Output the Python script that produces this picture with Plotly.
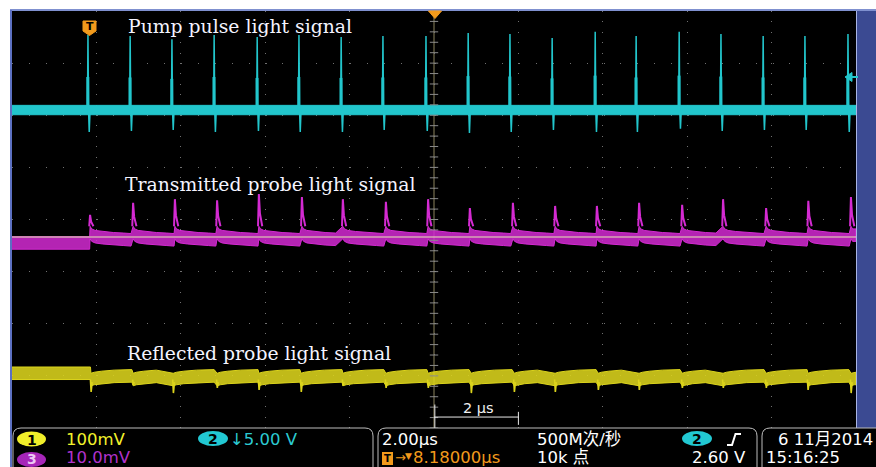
import plotly.graph_objects as go

# ---------------- data ----------------
# horizontal: time in µs (2 µs/div, 10 div, trigger at centre); vertical: screen divisions (8 div)
pump_t = [-8.20, -7.20, -6.21, -5.21, -4.19, -3.20, -2.20, -1.21, -0.19, 0.81,
          1.80, 2.80, 3.82, 4.79, 5.81, 6.80, 7.80, 8.79, 9.81]
pump_peak = [3.54, 3.52, 3.46, 3.54, 3.50, 3.54, 3.50, 3.52, 3.52, 3.58,
             3.56, 3.48, 3.60, 3.52, 3.60, 3.56, 3.52, 3.52, 3.56]
pump_under = [1.68, 1.70, 1.72, 1.68, 1.70, 1.68, 1.68, 1.72, 1.70, 1.66,
              1.68, 1.72, 1.68, 1.68, 1.74, 1.70, 1.72, 1.72, 1.68]
pump_base = 2.10
pump_band = 0.09

trans_t = [-8.15, -7.13, -6.14, -5.14, -4.15, -3.13, -2.16, -1.14, -0.14, 0.85,
           1.87, 2.87, 3.86, 4.86, 5.88, 6.85, 7.87, 8.87, 9.88]
trans_peak = [0.09, 0.32, 0.39, 0.37, 0.49, 0.43, 0.39, 0.34, 0.39, 0.22,
              0.32, 0.26, 0.26, 0.32, 0.28, 0.39, 0.22, 0.36, 0.43]
trans_pre = -0.45
trans_tail_dt = [0.0, 0.04, 0.12, 0.30, 0.55, 0.80, 0.97]
trans_tail_v = [-0.25, -0.30, -0.33, -0.35, -0.37, -0.38, -0.39]
trans_band = 0.12

refl_t = [-8.13, -7.13, -6.18, -5.14, -4.15, -3.15, -2.16, -1.14, -0.14, 0.88,
          1.90, 2.87, 3.89, 4.86, 5.88, 6.85, 7.87, 8.86, 9.88]
refl_dip = [-3.31, -3.17, -3.33, -3.23, -3.27, -3.31, -3.19, -3.23, -3.23, -3.33,
            -3.31, -3.31, -3.27, -3.27, -3.23, -3.23, -3.23, -3.27, -3.33]
refl_pre = -2.95
refl_tail_dt = [0.0, 0.08, 0.25, 0.55, 0.97]
refl_tail_v = [-3.07, -3.05, -3.03, -3.01, -3.00]
refl_band = 0.12

trace_labels = ["Pump pulse light signal", "Transmitted probe light signal",
                "Reflected probe light signal"]
status_ch = ["100mV", "10.0mV", "↓5.00 V"]
status_time = ["2.00µs", "8.18000µs", "500M次/秒", "10k 点", "2.60 V"]
status_date = ["6 11月2014", "15:16:25"]
scale_label = "2 µs"

C_PUMP = "#22c6cc"
C_TRANS = "#d42ad2"
C_REFL = "#dcd41c"
C_ORANGE = "#f29a1c"
SANS = "DejaVu Sans, Noto Sans CJK SC, sans-serif"
SERIF = "DejaVu Serif, serif"

# ---------------- geometry helpers (pixels -> paper) ----------------
L, T, R, B = 12, 11, 856, 428
W, H = R - L, B - T


def px(x):
    return (x - L) / W


def py(y):
    return (B - y) / H


def pth(points, close=True):
    s = "M " + " L ".join(f"{px(x):.5f},{py(y):.5f}" for x, y in points)
    return s + (" Z" if close else "")


def centerline(times, pre, dts, vs):
    xs, ys = [-10.0, times[0] - 0.01], [pre, pre]
    for i, t in enumerate(times):
        nxt = times[i + 1] if i + 1 < len(times) else 10.0
        for dt, v in zip(dts, vs):
            x = t + dt
            if x < nxt - 0.01 and x <= 10.0:
                xs.append(x)
                ys.append(v)
    if xs[-1] < 10.0:
        xs.append(10.0)
        ys.append(ys[-1])
    return xs, ys


def band(xs, ys, hw, color, fill):
    bx = xs + xs[::-1]
    by = [y + hw for y in ys] + [y - hw for y in ys[::-1]]
    return go.Scatter(x=bx, y=by, fill="toself", fillcolor=fill, mode="lines",
                      line=dict(color=color, width=1), hoverinfo="skip", showlegend=False)


fig = go.Figure()

# pump channel
fig.add_trace(band([-10.0, 10.0], [pump_base, pump_base], pump_band, C_PUMP, C_PUMP))
sx, sy, tx, ty = [], [], [], []
for t, pk, un in zip(pump_t, pump_peak, pump_under):
    sx += [t - 0.012, t, t + 0.014, t + 0.03, t + 0.05, None]
    sy += [pump_base, pk, pump_base, un, pump_base, None]
    tx += [t - 0.004, t - 0.004, None]
    ty += [pump_base, pump_base + 0.44 * (pk - pump_base), None]
fig.add_trace(go.Scatter(x=sx, y=sy, mode="lines", line=dict(color=C_PUMP, width=1.5),
                         hoverinfo="skip", showlegend=False))
fig.add_trace(go.Scatter(x=tx, y=ty, mode="lines", line=dict(color=C_PUMP, width=3),
                         hoverinfo="skip", showlegend=False))

# transmitted channel
cx, cy = centerline(trans_t, trans_pre, trans_tail_dt, trans_tail_v)
fig.add_trace(band(cx, cy, trans_band, C_TRANS, "rgba(212,42,210,0.85)"))
sx, sy = [], []
for t, pk in zip(trans_t, trans_peak):
    c0 = trans_tail_v[0] + trans_band
    sx += [t - 0.02, t, t + 0.025, t + 0.08, None]
    sy += [c0, pk, c0 + 0.4 * (pk - c0), c0, None]
fig.add_trace(go.Scatter(x=sx, y=sy, mode="lines", line=dict(color=C_TRANS, width=2),
                         hoverinfo="skip", showlegend=False))

# reflected channel
cx, cy = centerline(refl_t, refl_pre, refl_tail_dt, refl_tail_v)
fig.add_trace(band(cx, cy, refl_band, C_REFL, "rgba(220,212,28,0.88)"))
sx, sy = [], []
for t, d in zip(refl_t, refl_dip):
    c0 = refl_tail_v[0]
    sx += [t - 0.012, t + 0.005, t + 0.03, None]
    sy += [c0, d, c0 - 0.05, None]
fig.add_trace(go.Scatter(x=sx, y=sy, mode="lines", line=dict(color=C_REFL, width=1.6),
                         hoverinfo="skip", showlegend=False))

# centre-line minor ticks of graticule
tick_v = [k * 0.2 for k in range(-20, 21)]
fig.add_trace(go.Scatter(x=[0.0] * len(tick_v), y=tick_v, mode="markers",
                         marker=dict(symbol="line-ew", size=6,
                                     line=dict(color="#8a8a8a", width=1)),
                         hoverinfo="skip", showlegend=False))

shapes = []
# centre vertical line and pale horizontal reference line
shapes.append(dict(type="line", xref="x", yref="y", x0=0, x1=0, y0=-4, y1=4,
                   line=dict(color="rgba(165,155,110,0.85)", width=1), layer="below"))
shapes.append(dict(type="line", xref="x", yref="y", x0=-10, x1=10, y0=-0.336, y1=-0.336,
                   line=dict(color="#e6e6b4", width=1), layer="above"))
# scale bar
shapes.append(dict(type="line", xref="x", yref="y", x0=0, x1=2, y0=-3.79, y1=-3.79,
                   line=dict(color="#e8e8e8", width=1)))
shapes.append(dict(type="line", xref="x", yref="y", x0=2, x1=2, y0=-3.69, y1=-3.94,
                   line=dict(color="#e8e8e8", width=1)))
shapes.append(dict(type="line", xref="x", yref="y", x0=0.02, x1=0.02, y0=-3.55, y1=-4.0,
                   line=dict(color="#e8e8e8", width=1)))

# frame: status bar, right panel, borders
shapes.append(dict(type="rect", xref="paper", yref="paper", x0=px(L), x1=px(876),
                   y0=py(467), y1=py(B), fillcolor="black", line=dict(width=0)))
shapes.append(dict(type="rect", xref="paper", yref="paper", x0=px(R), x1=px(876),
                   y0=py(B), y1=py(10), fillcolor="#3b4a92", line=dict(width=0)))
shapes.append(dict(type="line", xref="paper", yref="paper", x0=px(R + 0.5), x1=px(R + 0.5),
                   y0=py(B), y1=py(10), line=dict(color="#a8b4e4", width=1)))
shapes.append(dict(type="line", xref="paper", yref="paper", x0=px(10), x1=px(876),
                   y0=py(10), y1=py(10), line=dict(color="#7f90cf", width=2)))
shapes.append(dict(type="line", xref="paper", yref="paper", x0=px(11), x1=px(11),
                   y0=py(10), y1=py(467), line=dict(color="#5c70c2", width=2)))
boxes = [(13, 373), (378, 757)]
for a, b in boxes:
    p = (f"M {px(a)},{py(467)} L {px(a)},{py(436)} Q {px(a)},{py(428)} {px(a + 8)},{py(428)} "
         f"L {px(b - 8)},{py(428)} Q {px(b)},{py(428)} {px(b)},{py(436)} L {px(b)},{py(467)}")
    shapes.append(dict(type="path", xref="paper", yref="paper", path=p,
                       line=dict(color="#bdbdbd", width=1)))
p = (f"M {px(762)},{py(467)} L {px(762)},{py(436)} Q {px(762)},{py(428)} {px(770)},{py(428)} "
     f"L {px(876)},{py(428)}")
shapes.append(dict(type="path", xref="paper", yref="paper", path=p,
                   line=dict(color="#bdbdbd", width=1)))

# markers: trigger T, trigger-position triangle, level arrow
shapes.append(dict(type="path", xref="paper", yref="paper",
                   path=pth([(83, 21), (96, 21), (96, 31), (89.5, 35.5), (83, 31)]),
                   fillcolor=C_ORANGE, line=dict(color=C_ORANGE, width=1)))
shapes.append(dict(type="path", xref="paper", yref="paper",
                   path=pth([(428.5, 11), (441.5, 11), (435, 18.5)]),
                   fillcolor=C_ORANGE, line=dict(color=C_ORANGE, width=1)))
shapes.append(dict(type="path", xref="paper", yref="paper",
                   path=pth([(845, 77), (852, 72.5), (852, 81.5)]),
                   fillcolor=C_PUMP, line=dict(color=C_PUMP, width=1)))
shapes.append(dict(type="line", xref="paper", yref="paper", x0=px(851), x1=px(858),
                   y0=py(77), y1=py(77), line=dict(color=C_PUMP, width=2)))

# status ovals
ovals = [(17, 46, 431.5, 446.5, "#f0ee2a"), (17, 46, 452, 467, "#a626b8"),
         (198, 228, 431, 446, "#22c8d2"), (682, 712, 431, 446, "#22c8d2")]
for x0, x1, y0, y1, col in ovals:
    shapes.append(dict(type="circle", xref="paper", yref="paper", x0=px(x0), x1=px(x1),
                       y0=py(y1), y1=py(y0), fillcolor=col, line=dict(width=0)))
# T icon in status
shapes.append(dict(type="rect", xref="paper", yref="paper", x0=px(382), x1=px(393),
                   y0=py(465), y1=py(452), fillcolor=C_ORANGE, line=dict(width=0)))
# rising edge symbol
shapes.append(dict(type="path", xref="paper", yref="paper",
                   path=pth([(727, 445), (732, 445), (735.5, 434), (741, 434)], close=False),
                   line=dict(color="white", width=2)))


def txt(x, y, s, color, size=16.5, anchor="left", family=SANS, bold=False):
    return dict(x=px(x), y=py(y), xref="paper", yref="paper", text=s, showarrow=False,
                xanchor=anchor, yanchor="middle",
                font=dict(color=color, size=size, family=family,
                          weight="bold" if bold else "normal"))


R1, R2 = 439, 457.5
ann = [
    txt(240, 27, trace_labels[0], "#f4f4ff", 18.8, "center", SERIF),
    txt(270, 184, trace_labels[1], "#f4f4ff", 18.8, "center", SERIF),
    txt(259, 353, trace_labels[2], "#f4f4ff", 18.8, "center", SERIF),
    txt(478, 408, scale_label, "#f0f0f0", 14.5, "center"),
    txt(89.5, 27, "T", "black", 11, "center", bold=True),
    txt(31.5, 439.5, "1", "black", 14, "center", bold=True),
    txt(31.5, 459, "3", "#ecc8f4", 14, "center", bold=True),
    txt(213, 438.5, "2", "black", 14, "center", bold=True),
    txt(697, 438.5, "2", "black", 14, "center", bold=True),
    txt(387.5, 458.5, "T", "black", 10, "center", bold=True),
    txt(64, R1, status_ch[0], "#f2f22c"),
    txt(64, R2, status_ch[1], "#b232cc"),
    txt(228, R1, status_ch[2], "#2ccad2"),
    txt(380, R1, status_time[0], "white"),
    txt(393, R2, "→", C_ORANGE, 13),
    txt(403, R2 - 1.5, "▼", C_ORANGE, 9),
    txt(411, R2, status_time[1], C_ORANGE),
    txt(535, R1, status_time[2], "white"),
    txt(535, R2, status_time[3], "white"),
    txt(748, R2, status_time[4], "white", anchor="right"),
    txt(776, R1, status_date[0], "white"),
    txt(764, R2, status_date[1], "white"),
]

fig.update_layout(
    width=876, height=467,
    margin=dict(l=L, r=876 - R, t=T, b=467 - B, pad=0),
    paper_bgcolor="white", plot_bgcolor="black",
    showlegend=False,
    xaxis=dict(range=[-10, 10], dtick=2, tick0=-10, showgrid=True, gridcolor="#707070",
               gridwidth=1, griddash="1px,9.4px", zeroline=False, showticklabels=False,
               showline=False, ticks="", fixedrange=True),
    yaxis=dict(range=[-4, 4], dtick=1, tick0=-4, showgrid=True, gridcolor="#707070",
               gridwidth=1, griddash="1px,15.9px", zeroline=False, showticklabels=False,
               showline=False, ticks="", fixedrange=True),
    shapes=shapes,
    annotations=ann,
)

fig.write_html("out.html", config={"displayModeBar": False})
